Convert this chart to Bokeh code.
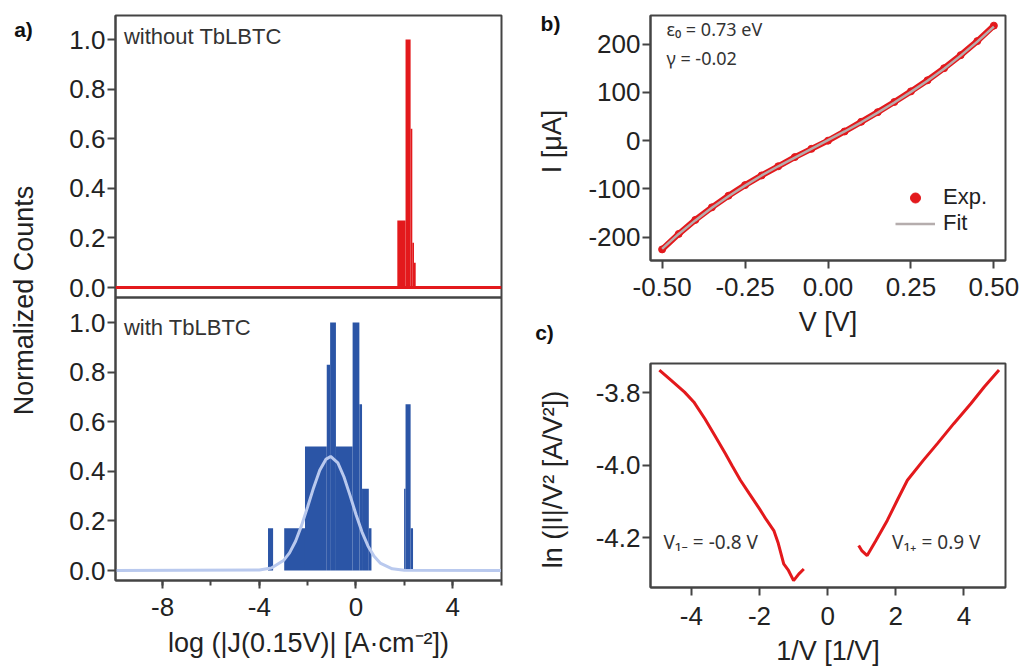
from math import pi
from bokeh.plotting import figure
from bokeh.layouts import row, column
from bokeh.models import (Range1d, FixedTicker, SingleIntervalTicker, PrintfTickFormatter,
                          CustomJSTickFormatter, Label, Span, Legend, LegendItem)
from bokeh.embed import file_html
from bokeh.resources import INLINE

# ---------------- data ----------------
# panel a (top): without TbLBTC, histogram bins (log J)
red_left = [1.71, 2.05, 2.26, 2.33, 2.40]
red_right = [2.05, 2.26, 2.33, 2.40, 2.47]
red_top = [0.27, 1.00, 0.64, 0.18, 0.10]

# panel a (bottom): with TbLBTC
blue_left = [-3.64, -2.97, -2.11, -1.21, -1.07, -0.83, -0.14, 0.14, 0.25, 0.53, 1.99, 2.05, 2.26]
blue_right = [-3.43, -2.11, -1.21, -1.07, -0.83, -0.14, 0.14, 0.25, 0.53, 0.64, 2.05, 2.26, 2.36]
blue_top = [0.17, 0.17, 0.50, 0.83, 1.00, 0.50, 1.00, 0.67, 0.33, 0.17, 0.33, 0.67, 0.17]

gfit_x = [-10, -4, -3.5, -3, -2.75, -2.5, -2.25, -2, -1.75, -1.5, -1.25, -1.05, -0.75,
          -0.5, -0.25, 0, 0.25, 0.5, 0.75, 1, 1.5, 2, 6]
gfit_y = [0, 0.002, 0.010, 0.040, 0.071, 0.118, 0.182, 0.257, 0.335, 0.404, 0.448, 0.460, 0.434,
          0.378, 0.304, 0.226, 0.155, 0.098, 0.057, 0.030, 0.007, 0.001, 0]

# panel b: I-V
v_exp = [-0.50, -0.45, -0.40, -0.35, -0.30, -0.25, -0.20, -0.15, -0.10, -0.05, 0.00,
         0.05, 0.10, 0.15, 0.20, 0.25, 0.30, 0.35, 0.40, 0.45, 0.50]
i_exp = [-225, -193, -164, -138, -114, -92, -72, -53, -34, -17, 0,
         19, 39, 59, 80, 102, 125, 150, 177, 206, 238]
v_fit = [-0.50, -0.45, -0.40, -0.35, -0.30, -0.25, -0.20, -0.15, -0.10, -0.05, 0.00,
         0.05, 0.10, 0.15, 0.20, 0.25, 0.30, 0.35, 0.40, 0.45, 0.50]
i_fit = [-224, -193, -165, -139, -115, -93, -72, -53, -35, -17, 1,
         19, 38, 58, 79, 101, 124, 149, 176, 205, 236]

# panel c: TVS plot
tvs_neg_x = [-4.94, -4.6, -4.2, -3.93, -3.6, -3.3, -3.0, -2.8, -2.56, -2.3, -2.0, -1.8,
             -1.58, -1.45, -1.29, -1.15, -1.0, -0.85, -0.70]
tvs_neg_y = [-3.737, -3.765, -3.798, -3.825, -3.872, -3.920, -3.968, -4.002, -4.041, -4.078,
             -4.120, -4.150, -4.180, -4.215, -4.272, -4.290, -4.318, -4.300, -4.286]
tvs_pos_x = [0.91, 1.0, 1.16, 1.4, 1.75, 2.05, 2.34, 2.8, 3.22, 3.7, 4.2, 4.6, 5.03]
tvs_pos_y = [-4.221, -4.235, -4.249, -4.210, -4.152, -4.095, -4.041, -3.987, -3.940, -3.885,
             -3.830, -3.783, -3.737]

a_yticks = [0.0, 0.2, 0.4, 0.6, 0.8, 1.0]
b_xticks = [-0.5, -0.25, 0.0, 0.25, 0.5]
b_yticks = [-200, -100, 0, 100, 200]
c_xticks = [-4, -2, 0, 2, 4]
c_yticks = [-4.2, -4.0, -3.8]

# ---------------- style ----------------
FONT = "Liberation Sans"
DARK = "#444444"
TXT = "#222222"
RED = "#e3191c"
BLUE = "#2b55a6"
LBLUE = "#b9c9ee"
TICK_FS = "26px"
LAB_FS = "27px"


def base_fig(**kw):
    p = figure(output_backend="svg", toolbar_location=None, **kw)
    p.xgrid.visible = False
    p.ygrid.visible = False
    p.outline_line_color = DARK
    p.outline_line_width = 2
    p.outline_line_alpha = 1
    p.background_fill_color = "white"
    p.border_fill_color = "white"
    return p


def label_fig(width, x0):
    p = figure(width=width, height=669, x_range=Range1d(x0, x0 + width), y_range=Range1d(669, 0),
               min_border=0, output_backend="svg", toolbar_location=None)
    p.axis.visible = False
    p.grid.visible = False
    p.outline_line_color = None
    return p


def style_axis(ax, standoff=3, label_standoff=10):
    ax.major_label_text_font = FONT
    ax.major_label_text_font_size = TICK_FS
    ax.major_label_text_color = TXT
    ax.axis_label_text_font = FONT
    ax.axis_label_text_font_size = LAB_FS
    ax.axis_label_text_font_style = "normal"
    ax.axis_label_text_color = TXT
    ax.axis_line_color = DARK
    ax.axis_line_width = 2
    ax.major_tick_line_color = DARK
    ax.major_tick_line_width = 2
    ax.major_tick_out = 8
    ax.major_tick_in = 0
    ax.minor_tick_line_color = DARK
    ax.minor_tick_line_width = 2
    ax.minor_tick_out = 0
    ax.minor_tick_in = 0
    ax.major_label_standoff = standoff
    ax.axis_label_standoff = label_standoff


def add_text(p, x, y, text, size=LAB_FS, angle=0.0, bold=False, align="center", font=FONT,
             color=TXT):
    p.add_layout(Label(x=x, y=y, text=text, angle=angle, text_align=align,
                       text_baseline="middle", text_font=font, text_font_size=size,
                       text_font_style="bold" if bold else "normal", text_color=color))


# ---------------- label column left ----------------
pl = label_fig(40, 0)
add_text(pl, 23, 300, "Normalized Counts", angle=pi / 2)
add_text(pl, 23, 29, "a)", size="21px", bold=True, color="#111111")

# ---------------- panel a (two stacked sub-panels in one frame) ----------------
xr_a = (-9.95, 6.02)
Y0, Y1 = -0.0403, 2.2379          # lower sub-panel range over the full frame
OFF = 1.1411                      # vertical offset of the upper sub-panel (layout)
SPLIT = 1.1008                    # border between the sub-panels
pa = base_fig(width=480, height=669, x_range=Range1d(*xr_a), y_range=Range1d(Y0, Y1),
              min_border_left=75, min_border_right=19, min_border_top=15, min_border_bottom=89)
pa.extra_y_ranges = {"top": Range1d(Y0 - OFF, Y1 - OFF)}
style_axis(pa.yaxis[0], standoff=2)
pa.yaxis.ticker = FixedTicker(ticks=a_yticks + [t + OFF for t in a_yticks])
pa.yaxis.formatter = CustomJSTickFormatter(
    args=dict(off=OFF, split=SPLIT),
    code="let v = tick > split ? tick - off : tick; if (Math.abs(v) < 1e-9) v = 0; return v.toFixed(1);")
style_axis(pa.xaxis[0], standoff=9, label_standoff=9)
pa.xaxis.ticker = SingleIntervalTicker(interval=4, num_minor_ticks=2)
pa.xaxis.formatter = PrintfTickFormatter(format="%d")
pa.xaxis.minor_tick_out = 5
pa.xaxis.axis_label = "log (|J(0.15V)| [A·cm⁻²])"

# upper: without TbLBTC
pa.quad(left=red_left, right=red_right, top=red_top, bottom=0, fill_color=RED, line_color=None,
        y_range_name="top")
pa.add_layout(Span(location=0, dimension="width", line_color=RED, line_width=3, y_range_name="top"))
pa.add_layout(Label(x=-9.6, y=1.012, text="without TbLBTC", text_baseline="middle",
                    text_font=FONT, text_font_size="22px", text_color="#333333",
                    y_range_name="top"))
# lower: with TbLBTC
pa.quad(left=blue_left, right=blue_right, top=blue_top, bottom=0, fill_color=BLUE, line_color=None)
pa.line(gfit_x, gfit_y, line_color=LBLUE, line_width=3)
pa.add_layout(Label(x=-9.6, y=0.981, text="with TbLBTC", text_baseline="middle",
                    text_font=FONT, text_font_size="22px", text_color="#333333"))
pa.add_layout(Span(location=SPLIT, dimension="width", line_color=DARK, line_width=2.5))

# ---------------- label column for b / c ----------------
pl2 = label_fig(60, 520)
add_text(pl2, 550, 23, "b)", size="21px", bold=True, color="#111111")
add_text(pl2, 551, 141, "I [μA]", angle=pi / 2)
add_text(pl2, 544, 332, "c)", size="21px", bold=True, color="#111111")
add_text(pl2, 552, 479, "ln (|I|/V² [A/V²])", angle=pi / 2)

# ---------------- panel b ----------------
pb = base_fig(width=444, height=340, x_range=Range1d(-0.535, 0.535), y_range=Range1d(-248, 259),
              min_border_left=70, min_border_right=17, min_border_top=15, min_border_bottom=80)
style_axis(pb.xaxis[0], standoff=9, label_standoff=8)
style_axis(pb.yaxis[0], standoff=2)
pb.xaxis.ticker = FixedTicker(ticks=b_xticks)
pb.xaxis.formatter = PrintfTickFormatter(format="%.2f")
pb.yaxis.ticker = FixedTicker(ticks=b_yticks)
pb.yaxis.formatter = PrintfTickFormatter(format="%d")
pb.xaxis.axis_label = "V [V]"
pb.line(v_exp, i_exp, line_color=RED, line_width=6)
r_exp = pb.scatter(v_exp, i_exp, size=7, color=RED)
r_fit = pb.line(v_fit, i_fit, line_color="#b5adad", line_width=2.5)
leg = Legend(items=[LegendItem(label="Exp.", renderers=[r_exp]),
                    LegendItem(label="Fit", renderers=[r_fit])],
             location=(245, 24))
leg.label_text_font = FONT
leg.label_text_font_size = "22px"
leg.label_text_color = TXT
leg.glyph_width = 40
leg.glyph_height = 25
leg.label_height = 25
leg.spacing = 0
leg.padding = 3
leg.margin = 0
leg.label_standoff = 8
leg.border_line_color = None
leg.background_fill_alpha = 1
pb.add_layout(leg)
pb.add_layout(Label(x=-0.487, y=232, text="ε₀ = 0.73 eV", text_baseline="middle",
                    text_font="Noto Sans", text_font_size="18px", text_color="#333333"))
pb.add_layout(Label(x=-0.487, y=172, text="γ = -0.02", text_baseline="middle",
                    text_font="Noto Sans", text_font_size="18px", text_color="#333333"))

# ---------------- panel c ----------------
pc = base_fig(width=444, height=329, x_range=Range1d(-5.2, 5.22), y_range=Range1d(-4.337, -3.719),
              min_border_left=70, min_border_right=19, min_border_top=23, min_border_bottom=82)
style_axis(pc.xaxis[0], standoff=11, label_standoff=8)
style_axis(pc.yaxis[0], standoff=2)
pc.xaxis.ticker = FixedTicker(ticks=c_xticks)
pc.xaxis.formatter = PrintfTickFormatter(format="%d")
pc.yaxis.ticker = FixedTicker(ticks=c_yticks)
pc.yaxis.formatter = PrintfTickFormatter(format="%.1f")
pc.xaxis.axis_label = "1/V [1/V]"
pc.line(tvs_neg_x, tvs_neg_y, line_color=RED, line_width=3)
pc.line(tvs_pos_x, tvs_pos_y, line_color=RED, line_width=3)
pc.add_layout(Label(x=-4.82, y=-4.212, text="V₁₋ = -0.8 V", text_baseline="middle",
                    text_font="Noto Sans", text_font_size="19px", text_color="#333333"))
pc.add_layout(Label(x=1.89, y=-4.212, text="V₁₊ = 0.9 V", text_baseline="middle",
                    text_font="Noto Sans", text_font_size="19px", text_color="#333333"))

layout = row(column(pl), column(pa), column(pl2), column(pb, pc))
open("out.html", "w").write(file_html(layout, INLINE))
